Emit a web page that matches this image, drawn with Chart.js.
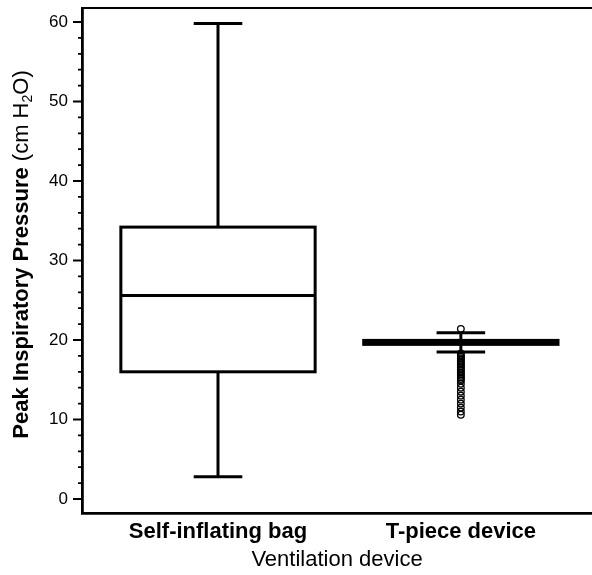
<!DOCTYPE html>
<html>
<head>
<meta charset="utf-8">
<script src="https://cdn.jsdelivr.net/npm/chart.js@4.4.1/dist/chart.umd.min.js"></script>
<style>
  html, body { margin: 0; padding: 0; background: #fff; }
</style>
</head>
<body>
<canvas id="boxChart" width="592" height="575"></canvas>
<script>
// Data
var categories = ["Self-inflating bag", "T-piece device"];
var whiskerLow = [2.8, 18.5];
var q1 = [16.0, 19.45];
var median = [25.6, 19.7];
var q3 = [34.2, 19.95];
var whiskerHigh = [59.8, 20.9];
var outliersSelfInflating = [];
var outliersTPiece = [21.4, 18.3, 18.1, 17.9, 17.7, 17.5, 17.3, 17.1, 16.9, 16.7, 16.5, 16.3,
    16.1, 15.9, 15.7, 15.5, 15.3, 15.1, 14.9, 14.5, 14.0, 13.5, 13.0, 12.5, 12.0, 11.5, 11.0, 10.6];
var yTickValues = [0, 10, 20, 30, 40, 50, 60];

var FONT = "'Liberation Sans', Arial, sans-serif";
let ctx = document.getElementById("boxChart").getContext("2d");

var outlierPoints = [];
[outliersSelfInflating, outliersTPiece].forEach(function (list, i) {
    list.forEach(function (v) { outlierPoints.push({ x: i + 1, y: v }); });
});

// draws boxes, whiskers, medians and the frame/ticks
const boxPlotPlugin = {
    id: "boxPlot",
    beforeDatasetsDraw(chart) {
        const c = chart.ctx;
        const xs = chart.scales.x;
        const ys = chart.scales.y;
        c.save();
        c.strokeStyle = "#000";
        c.lineWidth = 3;
        c.lineCap = "butt";
        for (let i = 0; i < categories.length; i++) {
            const cx = xs.getPixelForValue(i + 1);
            const half = (xs.getPixelForValue(i + 1.4) - xs.getPixelForValue(i + 0.6)) / 2;
            const cap = (xs.getPixelForValue(i + 1.1) - xs.getPixelForValue(i + 0.9)) / 2;
            const yLo = ys.getPixelForValue(whiskerLow[i]);
            const yHi = ys.getPixelForValue(whiskerHigh[i]);
            const yQ1 = ys.getPixelForValue(q1[i]);
            const yQ3 = ys.getPixelForValue(q3[i]);
            const yMed = ys.getPixelForValue(median[i]);
            c.beginPath();
            // whiskers
            c.moveTo(cx, yHi); c.lineTo(cx, yQ3);
            c.moveTo(cx, yQ1); c.lineTo(cx, yLo);
            // caps
            c.moveTo(cx - cap, yHi); c.lineTo(cx + cap, yHi);
            c.moveTo(cx - cap, yLo); c.lineTo(cx + cap, yLo);
            // median
            c.moveTo(cx - half, yMed); c.lineTo(cx + half, yMed);
            c.stroke();
            c.strokeRect(cx - half, yQ3, half * 2, yQ1 - yQ3);
        }
        c.restore();
    },
    afterDraw(chart) {
        const c = chart.ctx;
        const ys = chart.scales.y;
        const area = chart.chartArea;
        c.save();
        c.strokeStyle = "#000";
        // top frame line
        c.lineWidth = 2.2;
        c.beginPath();
        c.moveTo(area.left - 1, area.top);
        c.lineTo(area.right, area.top);
        c.stroke();
        // major and minor ticks
        c.lineWidth = 1.8;
        c.beginPath();
        for (let v = 0; v <= 60; v += 2) {
            const y = ys.getPixelForValue(v);
            const len = v % 10 === 0 ? 9 : 4;
            c.moveTo(area.left - len, y);
            c.lineTo(area.left, y);
        }
        c.stroke();
        // y axis title: bold part + normal part with subscript
        c.translate(22, (area.top + area.bottom) / 2 - 6);
        c.rotate(-Math.PI / 2);
        c.fillStyle = "#000";
        c.textBaseline = "middle";
        const boldPart = "Peak Inspiratory Pressure ";
        const normalPart = "(cm H";
        const sub = "2";
        const tail = "O)";
        c.font = "bold 22px " + FONT;
        const w1 = c.measureText(boldPart).width;
        c.font = "22px " + FONT;
        const w2 = c.measureText(normalPart).width;
        const w4 = c.measureText(tail).width;
        c.font = "14px " + FONT;
        const w3 = c.measureText(sub).width;
        let x = -(w1 + w2 + w3 + w4) / 2;
        c.font = "bold 22px " + FONT;
        c.fillText(boldPart, x, 0); x += w1;
        c.font = "22px " + FONT;
        c.fillText(normalPart, x, 0); x += w2;
        c.font = "14px " + FONT;
        c.fillText(sub, x, 6); x += w3;
        c.font = "22px " + FONT;
        c.fillText(tail, x, 0);
        c.restore();
    }
};

new Chart(ctx, {
    type: "scatter",
    data: {
        datasets: [{
            label: "Outliers",
            data: outlierPoints,
            pointStyle: "circle",
            pointRadius: 3.3,
            pointBorderWidth: 1.3,
            pointBorderColor: "#000",
            pointBackgroundColor: "rgba(0,0,0,0)",
        }],
    },
    plugins: [boxPlotPlugin],
    options: {
        responsive: false,
        animation: false,
        layout: { autoPadding: false, padding: { top: 8, right: 0, left: 0, bottom: 0 } },
        plugins: {
            legend: { display: false },
            tooltip: { enabled: false },
        },
        scales: {
            x: {
                type: "linear",
                min: 0.44,
                max: 2.54,
                afterBuildTicks: function (scale) {
                    scale.ticks = categories.map(function (c, i) { return { value: i + 1 }; });
                },
                afterFit: function (scale) {
                    scale.height = 62;
                    scale.paddingLeft = 0;
                    scale.paddingRight = 0;
                },
                grid: { display: false, drawTicks: false },
                border: { display: true, color: "#000", width: 2.8 },
                ticks: {
                    padding: 6,
                    color: "#000",
                    font: { family: FONT, size: 22, weight: "bold" },
                    maxRotation: 0,
                    callback: function (v) { return categories[Math.round(v) - 1]; },
                },
                title: {
                    display: true,
                    text: "Ventilation device",
                    color: "#000",
                    font: { family: FONT, size: 22 },
                    padding: { top: 0, bottom: 2 },
                },
            },
            y: {
                min: -1.76,
                max: 61.76,
                afterBuildTicks: function (scale) {
                    scale.ticks = yTickValues.map(function (v) { return { value: v }; });
                },
                afterFit: function (scale) {
                    scale.width = 82;
                    scale.paddingTop = 0;
                    scale.paddingBottom = 0;
                },
                grid: { display: false, drawTicks: false },
                border: { display: true, color: "#000", width: 2.8 },
                ticks: {
                    padding: 14,
                    color: "#000",
                    font: { family: FONT, size: 17 },
                },
            },
        },
    },
});
</script>
</body>
</html>
